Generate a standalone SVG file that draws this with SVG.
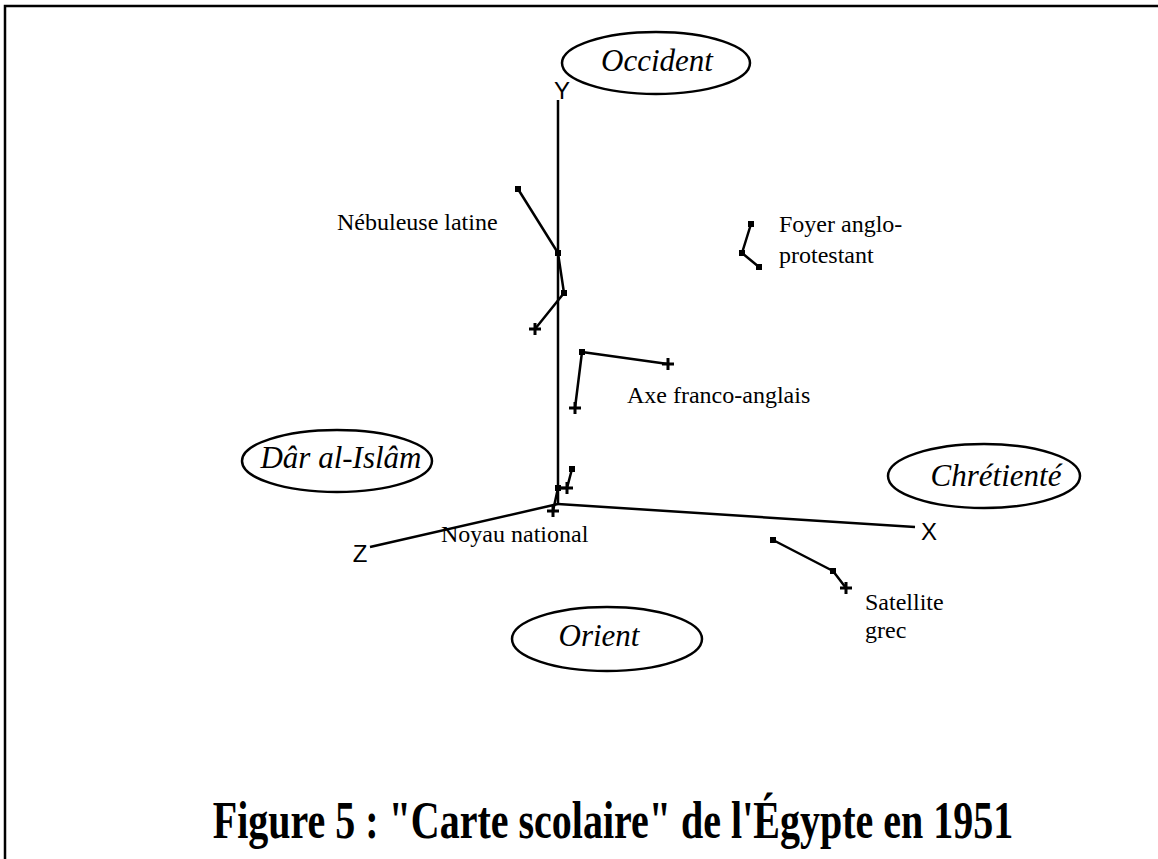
<svg xmlns="http://www.w3.org/2000/svg" width="1158" height="859" viewBox="0 0 1158 859">
<style>
.ln{fill:none;stroke:#000;stroke-width:2.5;stroke-linejoin:round}
.ax{fill:none;stroke:#000;stroke-width:2.5}
.el{fill:#fff;stroke:#000;stroke-width:2.5}
.lab{font-family:"Liberation Serif","Times New Roman",serif;font-size:24px;fill:#000}
.reg{font-family:"Liberation Serif","Times New Roman",serif;font-size:31px;font-style:italic;fill:#000;text-anchor:middle}
.axl{font-family:"Liberation Sans",Arial,sans-serif;font-size:24px;fill:#000;text-anchor:middle}
.ttl{font-family:"Liberation Serif","Times New Roman",serif;font-size:40px;font-weight:bold;fill:#000;text-anchor:middle}
</style>
<defs>
<rect id="sq" x="-3" y="-3" width="6" height="6" fill="#000"/>
<path id="cr" d="M-6,0H6M0,-6V6" stroke="#000" stroke-width="3" fill="none"/>
</defs>
<rect width="1158" height="859" fill="#fff"/>
<path d="M5,859V6H1158" fill="none" stroke="#000" stroke-width="2.5"/>

<g id="axes">
<line class="ax" x1="558" y1="100" x2="558" y2="504"/>
<line class="ax" x1="558" y1="504" x2="915" y2="527"/>
<line class="ax" x1="558" y1="504" x2="370" y2="547"/>
<text class="axl" x="562" y="99">Y</text>
<text class="axl" x="929" y="540">X</text>
<text class="axl" x="360" y="562">Z</text>
</g>

<g id="occident"><ellipse class="el" cx="656" cy="63" rx="94" ry="31"/><text class="reg" x="657" y="71">Occident</text></g>
<g id="dar-al-islam"><ellipse class="el" cx="337" cy="461" rx="95" ry="31"/><text class="reg" x="341" y="468">Dâr al-Islâm</text></g>
<g id="chretiente"><ellipse class="el" cx="984" cy="476" rx="96" ry="32"/><text class="reg" x="996" y="486">Chrétienté</text></g>
<g id="orient"><ellipse class="el" cx="607" cy="639" rx="95" ry="32"/><text class="reg" x="599" y="646">Orient</text></g>

<g id="connectors">
<polyline class="ln" points="518,189 558,253 564,293 535,329"/>
<polyline class="ln" points="751,224 742,253 759,267"/>
<polyline class="ln" points="575,408 582,352 668,364"/>
<polyline class="ln" points="553,511 558,488 567,488 572,469"/>
<polyline class="ln" points="773,540 833,571 846,588"/>
</g>

<g id="nebuleuse-latine">
<use href="#sq" x="518" y="189"/><use href="#sq" x="558" y="253"/><use href="#sq" x="564" y="293"/><use href="#cr" x="535" y="329"/>
<text class="lab" x="337" y="230">Nébuleuse latine</text>
</g>
<g id="foyer-anglo-protestant">
<use href="#sq" x="751" y="224"/><use href="#sq" x="742" y="253"/><use href="#sq" x="759" y="267"/>
<text class="lab" x="779" y="232">Foyer anglo-</text>
<text class="lab" x="779" y="263">protestant</text>
</g>
<g id="axe-franco-anglais">
<use href="#cr" x="575" y="408"/><use href="#sq" x="582" y="352"/><use href="#cr" x="668" y="364"/>
<text class="lab" x="627" y="403">Axe franco-anglais</text>
</g>
<g id="noyau-national">
<use href="#cr" x="553" y="511"/><use href="#sq" x="558" y="488"/><use href="#cr" x="567" y="488"/><use href="#sq" x="572" y="469"/>
<text class="lab" x="441" y="542">Noyau national</text>
</g>
<g id="satellite-grec">
<use href="#sq" x="773" y="540"/><use href="#sq" x="833" y="571"/><use href="#cr" x="846" y="588"/>
<text class="lab" x="865" y="610">Satellite</text>
<text class="lab" x="865" y="638">grec</text>
</g>

<g id="title">
<text class="ttl" transform="translate(613,838) scale(1,1.3)" x="0" y="0">Figure 5 : "Carte scolaire" de l'Égypte en 1951</text>
</g>
</svg>
